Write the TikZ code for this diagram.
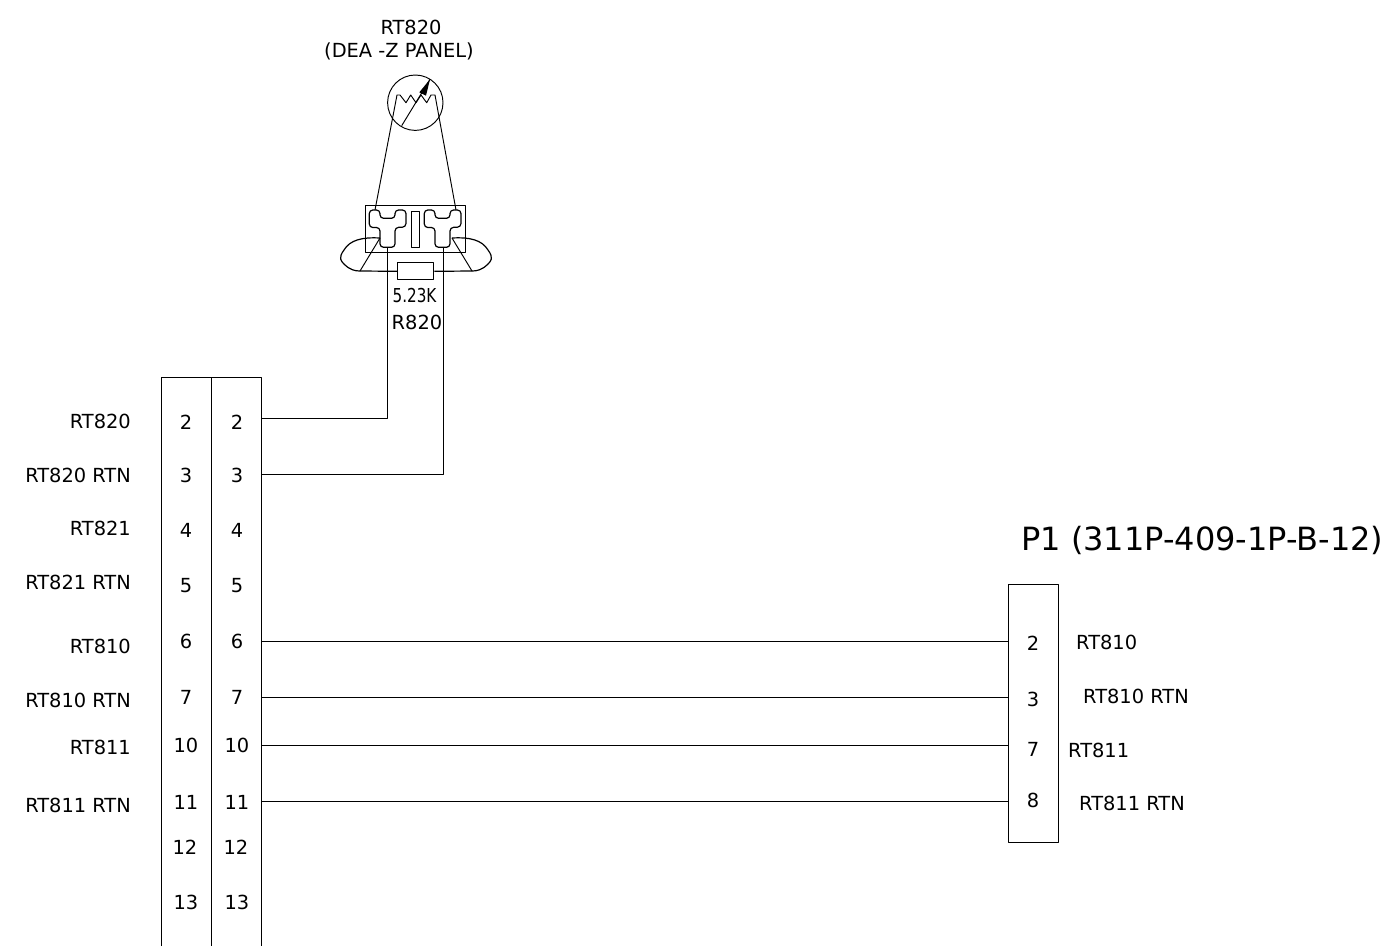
\documentclass[tikz,border=0pt]{standalone}
\usepackage{fontspec}
\setmainfont{DejaVu Sans}
\newfontfamily\condfont{DejaVu Sans Condensed}
\tikzset{
  ln/.style={draw=black,line width=0.95pt,line join=round},
  thk/.style={draw=black,line width=1.2pt,line join=round},
  lbl/.style={inner sep=0pt,font=\fontsize{19.4}{22}\selectfont,text=black},
  pin/.style={lbl},
  sig/.style={lbl,anchor=east},
  sigr/.style={lbl,anchor=west},
  big/.style={inner sep=0pt,font=\fontsize{32}{38}\selectfont,text=black}
}
\begin{document}
\begin{tikzpicture}[x=1pt,y=-1pt]
\useasboundingbox (0,0) rectangle (1385,946);
\fill[white] (0,0) rectangle (1385,946);
% title
\node[lbl] (t1) at (411,27.5) {RT820};
\node[lbl] (t2) at (399,51.5) {(DEA -Z PANEL)};
% rheostat
\draw[ln] (415.3,102.7) circle (27.7);
\draw[ln] (375,210) -- (397,95) -- (400,95) -- (406,102.7) -- (410.7,95) -- (416,102.7) -- (421,95) -- (426.7,102.7) -- (431,95) -- (435,95) -- (456,210);
\coordinate (a1) at (401.7,125.7);
\coordinate (a2) at (430,79.3);
\draw[ln] (a1) -- (a2);
\fill[black] (430,79.3) -- (419.3,92.3) -- (426,95.7) -- cycle;
% connector block
\draw[ln] (365.7,205.7) rectangle (465.7,252.3);
\draw[ln] (411.3,211.7) rectangle (419.3,247.3);
\draw[thk,rounded corners=3.5pt] (369.3,210) -- (380,210) -- (380,218.3) -- (395,218.3) -- (395,210) -- (406,210) -- (406,227) -- (395,227.5) -- (395,247.3) -- (380,247.3) -- (380,227.5) -- (369.3,227.5) -- cycle;
\draw[thk,rounded corners=3.5pt] (424.3,210) -- (435,210) -- (435,218.3) -- (450,218.3) -- (450,210) -- (461,210) -- (461,227) -- (450,227.5) -- (450,247.3) -- (435,247.3) -- (435,227.5) -- (424.3,227.5) -- cycle;
% ears
\draw[thk] (380,238) .. controls (362,237) and (350,240) .. (344,250) .. controls (338,258) and (341,261) .. (344,264) .. controls (350,270) and (355,271) .. (360,271);
\draw[ln] (360,271) -- (380,238);
\draw[thk] (452,238) .. controls (470,237) and (482,240) .. (488,250) .. controls (494,258) and (491,261) .. (488,264) .. controls (482,270) and (477,271) .. (472,271);
\draw[ln] (472,271) -- (452,238);
\node[ln,draw,minimum width=36.3pt,minimum height=16.7pt,inner sep=0pt] (res) at (415.8,271.3) {};
\coordinate (earL) at (360,271);
\coordinate (earR) at (472,271);
\draw[thk] (earL) -- (res.west);
\draw[thk] (res.east) -- (earR);
\node[inner sep=0pt,font=\condfont\fontsize{19.2}{22}\selectfont,text=black,xscale=0.88] (rv) at (414.5,296) {5.23K};
\node[lbl] (rn) at (417,322) {R820};
% left connector
\draw[ln] (161.7,946) -- (161.7,377.7) -- (261.7,377.7) -- (261.7,946);
\draw[ln] (211.7,377.7) -- (211.7,946);
% pin labels left
\foreach \n/\a/\b/\y in {2/186/237/422,3/186/237/475,4/186/237/530,5/186/237/586,6/186/237/641,7/186/237/697,10/186/237/745,11/186/237/802,12/185/236/847,13/186/237/902}{
  \node[pin] (la\n) at (\a,\y) {\n};
  \node[pin] (lb\n) at (\b,\y) {\n};
}
\node[sig] (s1) at (131,421.5) {RT820};
\node[sig] (s2) at (131,475) {RT820 RTN};
\node[sig] (s3) at (131,528.5) {RT821};
\node[sig] (s4) at (131,582) {RT821 RTN};
\node[sig] (s5) at (131,646.5) {RT810};
\node[sig] (s6) at (131,700.5) {RT810 RTN};
\node[sig] (s7) at (131,747) {RT811};
\node[sig] (s8) at (131,805.5) {RT811 RTN};
% right connector
\node[big,anchor=west] (p1) at (1021,540) {P1 (311P-409-1P-B-12)};
\node[ln,draw,minimum width=50pt,minimum height=258pt,inner sep=0pt,anchor=north west] (J) at (1007.7,583.7) {};
\node[pin] (r2) at (1033,643) {2};
\node[pin] (r3) at (1033,699) {3};
\node[pin] (r7) at (1033,749) {7};
\node[pin] (r8) at (1033,800) {8};
\node[sigr] (q1) at (1076,642.5) {RT810};
\node[sigr] (q2) at (1083,696.5) {RT810 RTN};
\node[sigr] (q3) at (1068,750) {RT811};
\node[sigr] (q4) at (1079,803) {RT811 RTN};
% wires
\coordinate (P2) at (261.7,418);
\coordinate (P3) at (261.7,474);
\coordinate (W2) at (387.7,247.3);
\coordinate (W3) at (443.7,247.3);
\draw[ln] (P2) -| (W2);
\draw[ln] (P3) -| (W3);
\foreach \y/\nm in {641/a,697/b,745/c,801/d}{
  \coordinate (L\nm) at (261.7,\y);
  \coordinate (R\nm) at (1007.7,\y);
  \draw[ln] (L\nm) -- (R\nm);
}
\end{tikzpicture}
\end{document}
